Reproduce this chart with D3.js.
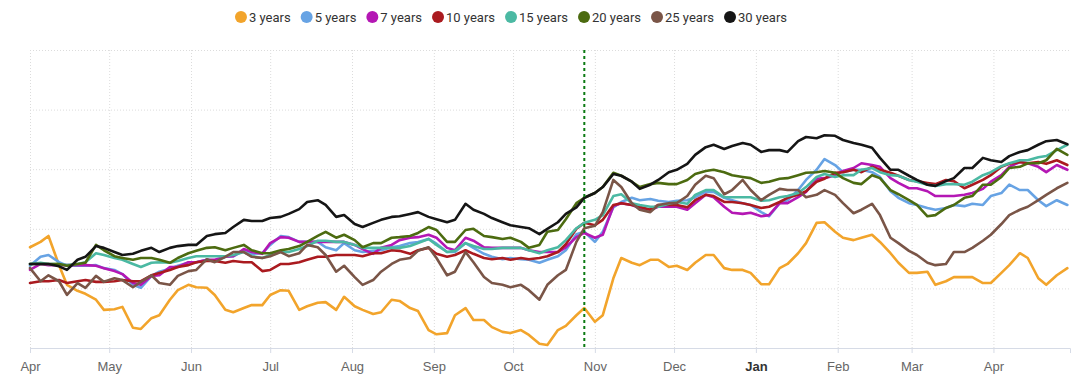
<!DOCTYPE html>
<html>
<head>
<meta charset="utf-8">
<script src="https://cdn.jsdelivr.net/npm/d3@7"></script>
<style>
  body { margin: 0; background: #fff; font-family: Roboto, "Liberation Sans", Arial, sans-serif; }
  .grid line { stroke: #dcdcdc; stroke-dasharray: 1 2; }
  .grid .domain { display: none; }
  .x-axis .domain { stroke: #d6dbe6; }
  .x-axis line { stroke: #d6dbe6; }
  .x-axis text { fill: #666; font-size: 13px; }
</style>
</head>
<body>
<div id="vis-container"></div>
<script>
// observations, twice a week
const dates = [
  "2021-04-01","2021-04-05","2021-04-08","2021-04-12","2021-04-15","2021-04-19","2021-04-22","2021-04-26","2021-04-29",
  "2021-05-03","2021-05-06","2021-05-10","2021-05-13","2021-05-17","2021-05-20","2021-05-24","2021-05-27","2021-05-31",
  "2021-06-03","2021-06-07","2021-06-10","2021-06-14","2021-06-17","2021-06-21","2021-06-24","2021-06-28",
  "2021-07-01","2021-07-05","2021-07-08","2021-07-12","2021-07-15","2021-07-19","2021-07-22","2021-07-26","2021-07-29",
  "2021-08-02","2021-08-05","2021-08-09","2021-08-12","2021-08-16","2021-08-19","2021-08-23","2021-08-26","2021-08-30",
  "2021-09-02","2021-09-06","2021-09-09","2021-09-13","2021-09-16","2021-09-20","2021-09-23","2021-09-27","2021-09-30",
  "2021-10-04","2021-10-07","2021-10-11","2021-10-14","2021-10-18","2021-10-21","2021-10-25","2021-10-28",
  "2021-11-01","2021-11-04","2021-11-08","2021-11-11","2021-11-15","2021-11-18","2021-11-22","2021-11-25","2021-11-29",
  "2021-12-02","2021-12-06","2021-12-09","2021-12-13","2021-12-16","2021-12-20","2021-12-23","2021-12-27","2021-12-30",
  "2022-01-03","2022-01-06","2022-01-10","2022-01-13","2022-01-17","2022-01-20","2022-01-24","2022-01-27","2022-01-31",
  "2022-02-03","2022-02-07","2022-02-10","2022-02-14","2022-02-17","2022-02-21","2022-02-24","2022-02-28",
  "2022-03-03","2022-03-07","2022-03-10","2022-03-14","2022-03-17","2022-03-21","2022-03-24","2022-03-28","2022-03-31",
  "2022-04-04","2022-04-07","2022-04-11","2022-04-14","2022-04-18","2022-04-21","2022-04-25","2022-04-29"
];

const y3 = [1.69,1.78,1.88,1.39,1.06,0.96,0.91,0.81,0.64,0.65,0.69,0.34,0.32,0.50,0.55,0.81,0.97,1.06,1.02,1.01,0.89,0.64,0.60,0.67,0.72,0.72,0.89,0.97,0.96,0.64,0.70,0.76,0.77,0.64,0.86,0.70,0.64,0.57,0.60,0.81,0.79,0.67,0.62,0.30,0.23,0.25,0.55,0.67,0.47,0.47,0.35,0.27,0.25,0.30,0.22,0.07,0.05,0.30,0.37,0.55,0.67,0.44,0.55,1.17,1.51,1.43,1.39,1.48,1.48,1.36,1.38,1.31,1.43,1.56,1.56,1.34,1.31,1.31,1.26,1.07,1.07,1.34,1.41,1.59,1.76,2.10,2.11,1.95,1.85,1.81,1.85,1.90,1.78,1.59,1.43,1.26,1.26,1.28,1.06,1.12,1.19,1.19,1.19,1.09,1.09,1.26,1.39,1.59,1.51,1.17,1.06,1.22,1.34];
const y5 = [1.38,1.53,1.56,1.44,1.38,1.38,1.38,1.39,1.34,1.31,1.24,1.06,1.01,1.21,1.28,1.33,1.38,1.43,1.44,1.48,1.46,1.53,1.54,1.63,1.58,1.59,1.73,1.88,1.86,1.78,1.78,1.78,1.69,1.64,1.76,1.64,1.61,1.63,1.64,1.69,1.71,1.76,1.78,1.83,1.75,1.61,1.61,1.76,1.68,1.58,1.53,1.49,1.51,1.49,1.48,1.43,1.48,1.54,1.64,1.91,1.95,1.78,1.95,2.36,2.45,2.52,2.48,2.50,2.47,2.45,2.47,2.48,2.53,2.62,2.62,2.52,2.48,2.43,2.40,2.28,2.21,2.43,2.48,2.65,2.82,2.99,3.17,3.07,2.95,2.99,2.99,2.95,2.87,2.63,2.52,2.43,2.40,2.35,2.32,2.35,2.40,2.38,2.42,2.40,2.55,2.60,2.74,2.65,2.65,2.48,2.38,2.48,2.40];
const y7 = [1.31,1.41,1.39,1.39,1.39,1.39,1.39,1.38,1.34,1.29,1.24,1.09,1.06,1.21,1.22,1.36,1.36,1.44,1.44,1.48,1.48,1.53,1.54,1.66,1.61,1.58,1.76,1.86,1.85,1.78,1.78,1.78,1.78,1.78,1.78,1.73,1.66,1.58,1.68,1.73,1.81,1.85,1.86,1.90,1.85,1.68,1.64,1.85,1.80,1.69,1.68,1.68,1.68,1.68,1.64,1.61,1.61,1.61,1.69,1.86,1.93,1.85,1.90,2.38,2.43,2.40,2.35,2.32,2.37,2.37,2.37,2.32,2.43,2.57,2.53,2.37,2.27,2.25,2.27,2.21,2.23,2.43,2.43,2.53,2.62,2.84,2.85,2.90,2.97,3.02,3.10,3.07,3.04,2.85,2.77,2.68,2.68,2.63,2.55,2.55,2.55,2.57,2.60,2.67,2.79,2.90,3.04,3.12,3.10,3.04,2.95,3.07,2.99];
const y10 = [1.09,1.12,1.12,1.14,1.09,1.12,1.14,1.11,1.11,1.12,1.14,1.12,1.12,1.22,1.26,1.31,1.36,1.39,1.44,1.46,1.46,1.43,1.46,1.44,1.44,1.29,1.31,1.41,1.41,1.44,1.48,1.53,1.53,1.56,1.56,1.56,1.54,1.59,1.59,1.64,1.63,1.58,1.64,1.68,1.58,1.53,1.56,1.64,1.58,1.51,1.49,1.51,1.48,1.51,1.49,1.51,1.54,1.61,1.74,2.00,2.10,2.06,2.15,2.40,2.43,2.40,2.37,2.32,2.40,2.40,2.40,2.36,2.48,2.57,2.55,2.45,2.45,2.43,2.40,2.35,2.37,2.45,2.52,2.57,2.63,2.79,2.84,2.94,2.95,2.99,2.95,3.04,2.99,2.94,2.89,2.82,2.80,2.77,2.75,2.82,2.80,2.68,2.74,2.82,2.90,3.04,3.09,3.12,3.10,3.12,3.09,3.15,3.07];
const y15 = [1.41,1.43,1.41,1.41,1.39,1.41,1.44,1.59,1.56,1.51,1.48,1.41,1.36,1.43,1.44,1.43,1.46,1.51,1.54,1.54,1.54,1.54,1.56,1.61,1.54,1.51,1.56,1.61,1.61,1.66,1.71,1.80,1.80,1.78,1.78,1.73,1.68,1.68,1.68,1.68,1.68,1.71,1.76,1.83,1.73,1.61,1.63,1.76,1.71,1.66,1.66,1.68,1.68,1.68,1.64,1.59,1.64,1.69,1.81,2.01,2.10,2.15,2.23,2.55,2.58,2.43,2.40,2.37,2.37,2.42,2.45,2.42,2.57,2.65,2.65,2.53,2.53,2.53,2.53,2.47,2.48,2.53,2.55,2.60,2.70,2.87,2.92,2.87,2.90,2.90,2.99,3.02,2.95,2.90,2.89,2.82,2.79,2.74,2.72,2.75,2.75,2.74,2.79,2.90,2.95,3.05,3.10,3.15,3.15,3.20,3.22,3.32,3.41];
const y20 = [1.41,1.41,1.41,1.41,1.38,1.41,1.43,1.73,1.64,1.54,1.51,1.48,1.51,1.51,1.48,1.43,1.51,1.59,1.63,1.68,1.69,1.64,1.68,1.73,1.64,1.59,1.59,1.64,1.66,1.71,1.78,1.88,1.95,1.85,1.90,1.81,1.69,1.76,1.76,1.85,1.86,1.88,1.93,2.03,1.98,1.78,1.78,1.98,2.00,1.88,1.86,1.83,1.85,1.78,1.68,1.73,1.95,1.98,2.16,2.43,2.52,2.60,2.70,2.94,2.89,2.79,2.70,2.75,2.77,2.75,2.75,2.82,2.92,2.97,2.99,2.95,2.90,2.87,2.85,2.77,2.79,2.84,2.85,2.90,2.94,2.95,2.97,2.94,2.85,2.77,2.75,2.90,2.85,2.65,2.58,2.48,2.40,2.21,2.23,2.35,2.40,2.52,2.55,2.74,2.74,2.87,3.02,3.04,3.10,3.10,3.15,3.34,3.24];
const y25 = [1.34,1.12,1.22,1.12,0.89,1.09,1.01,1.21,1.11,1.17,1.14,1.02,1.11,1.22,1.09,1.06,1.21,1.29,1.31,1.49,1.44,1.53,1.61,1.61,1.53,1.51,1.54,1.61,1.54,1.59,1.73,1.69,1.56,1.28,1.38,1.19,1.06,1.14,1.28,1.41,1.48,1.51,1.63,1.69,1.51,1.22,1.28,1.61,1.44,1.19,1.09,1.06,1.02,1.06,0.97,0.81,1.06,1.22,1.31,1.78,2.01,2.05,2.28,2.82,2.70,2.43,2.32,2.28,2.40,2.43,2.43,2.55,2.74,2.89,2.85,2.58,2.65,2.82,2.65,2.48,2.57,2.67,2.65,2.65,2.53,2.57,2.65,2.57,2.43,2.26,2.32,2.42,2.23,1.85,1.76,1.63,1.56,1.43,1.39,1.41,1.61,1.61,1.68,1.80,1.90,2.08,2.23,2.32,2.37,2.48,2.57,2.68,2.77];
const y30 = [1.41,1.41,1.41,1.37,1.31,1.48,1.53,1.71,1.68,1.61,1.56,1.58,1.63,1.68,1.61,1.68,1.71,1.73,1.73,1.88,1.91,1.93,2.03,2.15,2.13,2.13,2.18,2.20,2.25,2.33,2.45,2.48,2.40,2.20,2.23,2.08,2.03,2.10,2.15,2.20,2.21,2.25,2.28,2.20,2.16,2.11,2.15,2.42,2.32,2.25,2.18,2.11,2.06,2.03,2.01,1.91,2.00,2.11,2.25,2.36,2.52,2.60,2.70,2.92,2.89,2.79,2.67,2.74,2.82,2.95,2.99,3.09,3.24,3.37,3.41,3.34,3.39,3.44,3.41,3.29,3.32,3.32,3.29,3.47,3.54,3.52,3.57,3.56,3.49,3.44,3.41,3.36,3.19,2.99,2.99,2.89,2.82,2.74,2.72,2.80,2.85,3.02,3.02,3.19,3.15,3.12,3.22,3.29,3.32,3.41,3.47,3.49,3.42];

const seriesNames = ["3 years","5 years","7 years","10 years","15 years","20 years","25 years","30 years"];
const seriesValues = [y3, y5, y7, y10, y15, y20, y25, y30];
const seriesColors = ["#f2a42b","#67a3e4","#b417b4","#aa1a1f","#4bb9a3","#4c6b10","#7a5547","#151515"];

const monthTicks = ["2021-04-01","2021-05-01","2021-06-01","2021-07-01","2021-08-01","2021-09-01","2021-10-01",
  "2021-11-01","2021-12-01","2022-01-01","2022-02-01","2022-03-01","2022-04-01"];
const yTicks = [0, 1, 2, 3, 4, 5];
const markerDate = "2021-10-28";
const xStart = "2021-04-01";
const xEnd = "2022-04-30";

const parseTime = d3.timeParse("%Y-%m-%d");

const width = 1084;
const height = 385;
const padding = { top: 50, right: 14, bottom: 37, left: 30 };
const plotAreaWidth = width - padding.left - padding.right;
const plotAreaHeight = height - padding.top - padding.bottom;

const xScale = d3.scaleTime()
  .domain([parseTime(xStart), parseTime(xEnd)])
  .range([0, plotAreaWidth]);
const yScale = d3.scaleLinear()
  .domain([0, 5])
  .range([plotAreaHeight, 0]);

const svg = d3.select('#vis-container').append('svg')
  .attr('width', width)
  .attr('height', height);

const g = svg.append('g')
  .attr('transform', `translate(${padding.left} ${padding.top})`);

// grid
g.append('g').attr('class', 'grid')
  .call(d3.axisLeft(yScale).tickValues(yTicks).tickSize(-plotAreaWidth).tickFormat(''));
g.append('g').attr('class', 'grid')
  .attr('transform', `translate(0 ${plotAreaHeight})`)
  .call(d3.axisBottom(xScale).tickValues(monthTicks.map(parseTime)).tickSize(plotAreaHeight).tickFormat(''))
  .selectAll('line').attr('transform', `translate(0 ${-plotAreaHeight})`);

// x axis
const xAxisG = g.append('g').attr('class', 'x-axis')
  .attr('transform', `translate(0 ${plotAreaHeight})`)
  .call(d3.axisBottom(xScale)
    .tickValues(monthTicks.map(parseTime))
    .tickSize(5)
    .tickPadding(9)
    .tickFormat(d3.timeFormat('%b')));
xAxisG.selectAll('.tick text')
  .filter(d => d.getMonth() === 0)
  .style('font-weight', 'bold')
  .style('fill', '#333');

// lines
const line = d3.line()
  .x((d, i) => xScale(parseTime(dates[i])))
  .y(d => yScale(d));

seriesValues.forEach(function (vals, k) {
  g.append('path')
    .datum(vals)
    .attr('fill', 'none')
    .attr('stroke', seriesColors[k])
    .attr('stroke-width', 2.6)
    .attr('stroke-linejoin', 'round')
    .attr('stroke-linecap', 'round')
    .attr('d', line);
});

// marker line
g.append('line')
  .attr('x1', xScale(parseTime(markerDate)))
  .attr('x2', xScale(parseTime(markerDate)))
  .attr('y1', 0)
  .attr('y2', plotAreaHeight)
  .attr('stroke', '#0b7a12')
  .attr('stroke-width', 2)
  .attr('stroke-dasharray', '3 3');

// legend
const legend = svg.append('g')
  .style('font-size', '13px')
  .style('fill', '#333');
let lx = 0;
seriesNames.forEach(function (name, k) {
  const item = legend.append('g').attr('transform', `translate(${lx} 0)`);
  item.append('circle').attr('cx', 6).attr('cy', 0).attr('r', 6).attr('fill', seriesColors[k]);
  const t = item.append('text').attr('x', 14).attr('dy', '0.35em').text(name);
  lx += 14 + t.node().getComputedTextLength() + 10;
});
legend.attr('transform', `translate(${511 - (lx - 10) / 2} 17)`);
</script>
</body>
</html>
